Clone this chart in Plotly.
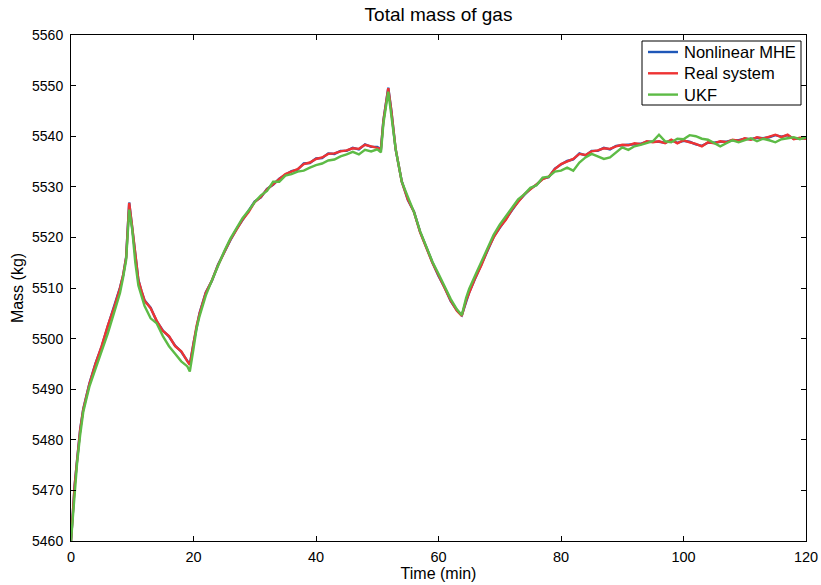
import plotly.graph_objects as go

time_min = [0, 0.3, 0.6, 1, 1.5, 2, 2.5, 3, 4, 5, 6, 7, 8, 8.5, 9, 9.5, 10, 10.5, 11, 11.5,
            12, 13, 14, 15, 16, 17, 18, 19, 19.4, 20, 20.5, 21, 22, 23, 24, 25, 26, 27, 28, 29,
            30, 31, 32, 33, 34, 35, 36, 37, 38, 39, 40, 41, 42, 43, 44, 45, 46, 47, 48, 49,
            50, 50.6, 51, 51.8, 52.3, 53, 54, 55, 56, 57, 58, 59, 60, 61, 62, 63, 63.8, 64.5, 65, 66,
            67, 68, 69, 70, 71, 72, 73, 74, 75, 76, 77, 78, 79, 80, 81, 82, 83, 84, 85, 86,
            87, 88, 89, 90, 91, 92, 93, 94, 95, 96, 97, 98, 99, 100, 101, 102, 103, 104, 105, 106,
            107, 108, 109, 110, 111, 112, 113, 114, 115, 116, 117, 118, 119, 120]

real_system = [5460, 5466, 5471, 5476, 5482, 5486, 5488.5, 5491, 5495, 5498.5, 5502.5, 5506, 5510, 5512.5, 5516, 5526.8, 5522, 5516.5, 5511.5, 5509.5,
               5507.5, 5506, 5503.5, 5501.5, 5500.5, 5498.5, 5497.5, 5495.5, 5494.8, 5499, 5502.5, 5505, 5509, 5511.5, 5514.5, 5517, 5519.5, 5521.5, 5523.5, 5525,
               5527, 5528, 5529.5, 5530.5, 5531.5, 5532.5, 5533, 5533.5, 5534.5, 5534.8, 5535.5, 5535.8, 5536.5, 5536.6, 5537, 5537.2, 5537.6, 5537.5, 5538.3, 5538,
               5537.8, 5537.5, 5543, 5549.5, 5545, 5537.5, 5531, 5527.5, 5525, 5521, 5518, 5515, 5512.5, 5510, 5507.5, 5505.5, 5504.5, 5507.5, 5509, 5512,
               5514.5, 5517.5, 5520, 5522, 5523.5, 5525.5, 5527, 5528.5, 5529.5, 5530.5, 5531.5, 5532, 5533.5, 5534.5, 5535, 5535.5, 5536.5, 5536.3, 5537, 5537.2,
               5537.6, 5537.5, 5538, 5538.3, 5538.2, 5538.6, 5538.4, 5539, 5538.8, 5539, 5538.6, 5539.3, 5538.6, 5539.2, 5538.8, 5538.5, 5538, 5538.8, 5538.6, 5539,
               5538.8, 5539.3, 5539.1, 5539.6, 5539.3, 5539.8, 5539.5, 5539.9, 5540.3, 5539.8, 5540.3, 5539.4, 5539.7, 5539.5]

nonlinear_mhe = [5460, 5466.2, 5471.1, 5476.1, 5482.1, 5486.1, 5488.4, 5491.1, 5495.1, 5498.4, 5502.4, 5506.1, 5510.1, 5512.4, 5516.1, 5526.9, 5522.1, 5516.4, 5511.6, 5509.4,
                 5507.6, 5506.1, 5503.4, 5501.6, 5500.4, 5498.6, 5497.4, 5495.6, 5494.9, 5499.1, 5502.4, 5505.1, 5509.1, 5511.4, 5514.6, 5517.1, 5519.4, 5521.6, 5523.4, 5525.1,
                 5527.1, 5527.9, 5529.6, 5530.4, 5531.6, 5532.4, 5533.1, 5533.4, 5534.6, 5534.7, 5535.6, 5535.7, 5536.6, 5536.5, 5537.1, 5537.1, 5537.7, 5537.4, 5538.4, 5537.9,
                 5537.9, 5537.4, 5543.1, 5549.6, 5545.1, 5537.4, 5531.1, 5527.4, 5525.1, 5521.1, 5517.9, 5515.1, 5512.4, 5510.1, 5507.4, 5505.6, 5504.6, 5507.4, 5509.1, 5511.9,
                 5514.6, 5517.4, 5520.1, 5521.9, 5523.6, 5525.4, 5527.1, 5528.4, 5529.6, 5530.4, 5531.6, 5531.9, 5533.6, 5534.4, 5535.1, 5535.4, 5536.6, 5536.2, 5537.1, 5537.1,
                 5537.7, 5537.4, 5538.1, 5538.2, 5538.3, 5538.5, 5538.5, 5538.9, 5538.9, 5538.9, 5538.7, 5539.2, 5538.7, 5539.1, 5538.9, 5538.4, 5538.1, 5538.7, 5538.7, 5538.9,
                 5538.9, 5539.2, 5539.2, 5539.5, 5539.4, 5539.7, 5539.6, 5539.8, 5540.2, 5539.9, 5540.2, 5539.5, 5539.6, 5539.6]

ukf = [5460, 5465, 5470, 5475.5, 5481, 5485.5, 5488, 5490.5, 5494, 5497.5, 5501, 5505, 5509, 5512, 5515.5, 5525.5, 5521.5, 5515, 5510.5, 5508.5,
       5506.5, 5504, 5503, 5500.5, 5498.5, 5497, 5495.5, 5494.5, 5493.5, 5498, 5502, 5504.5, 5508.5, 5511.5, 5514.5, 5517.2, 5519.7, 5521.8, 5523.8, 5525.3,
       5527, 5528.3, 5529.2, 5531, 5531, 5532.2, 5532.5, 5533, 5533.2, 5533.8, 5534.3, 5534.6, 5535.2, 5535.4, 5536, 5536.4, 5536.9, 5536.4, 5537.3, 5537,
       5537.4, 5536.8, 5542.5, 5548.8, 5544.5, 5537.5, 5531, 5527.8, 5525, 5521.2, 5518, 5515.2, 5512.8, 5510.2, 5507.8, 5505.8, 5504.6, 5508, 5509.8, 5512.5,
       5515.2, 5518, 5520.5, 5522.5, 5524.2, 5526, 5527.5, 5528.5, 5529.8, 5530.3, 5531.8, 5532, 5533, 5533.2, 5533.8, 5533.2, 5534.8, 5535.8, 5536.5, 5536,
       5535.5, 5535.8, 5536.8, 5537.8, 5537.3, 5538, 5538.3, 5538.6, 5539, 5540.3, 5539, 5538.8, 5539.5, 5539.4, 5540.2, 5540, 5539.5, 5539.3, 5538.6, 5538,
       5538.6, 5539.2, 5538.8, 5539.2, 5539.6, 5539, 5539.5, 5539.2, 5538.8, 5539.4, 5539.6, 5539.8, 5539.4, 5539.8]

series_names = ["Nonlinear MHE", "Real system", "UKF"]
series_colors = ["#1f57b8", "#ee3333", "#5dbb46"]

x_ticks = [0, 20, 40, 60, 80, 100, 120]
y_ticks = [5460, 5470, 5480, 5490, 5500, 5510, 5520, 5530, 5540, 5550, 5560]

FONT = "Liberation Sans, Arial, Helvetica, sans-serif"

# plot area in pixels (for legend placement in paper coordinates)
L, R, T, B = 71, 806, 35, 541


def px(x):
    return (x - L) / (R - L)


def py(y):
    return (B - y) / (B - T)


fig = go.Figure()
for name, color, vals in zip(series_names, series_colors, [nonlinear_mhe, real_system, ukf]):
    fig.add_trace(go.Scatter(x=time_min, y=vals, mode="lines", name=name,
                             line=dict(color=color, width=2.4), showlegend=False))

# MATLAB-style legend box
shapes = [dict(type="rect", xref="paper", yref="paper", x0=px(642), x1=px(801),
               y0=py(105), y1=py(41), line=dict(color="black", width=1), fillcolor="white",
               layer="above")]
annotations = []
for i, (name, color) in enumerate(zip(series_names, series_colors)):
    yy = 52 + i * 21.3
    shapes.append(dict(type="line", xref="paper", yref="paper", x0=px(648), x1=px(678),
                       y0=py(yy), y1=py(yy), line=dict(color=color, width=2.4), layer="above"))
    annotations.append(dict(text=name, xref="paper", yref="paper", x=px(682), y=py(yy),
                            xanchor="left", yanchor="middle", showarrow=False,
                            font=dict(size=16.5, family=FONT, color="black")))

fig.update_layout(
    width=821, height=585,
    margin=dict(l=71, r=15, t=35, b=44, autoexpand=False),
    paper_bgcolor="white", plot_bgcolor="white",
    font=dict(family=FONT, size=13.5, color="black"),
    title=dict(text="Total mass of gas", x=(71 + 735 / 2) / 821, xanchor="center",
               y=1 - 14 / 585, yanchor="middle", font=dict(size=19)),
    showlegend=False,
    shapes=shapes,
    annotations=annotations,
)
fig.update_xaxes(range=[0, 120], tickvals=x_ticks, ticks="inside", ticklen=5,
                 tickcolor="black", showline=True, linecolor="black", linewidth=1,
                 mirror="ticks", showgrid=False, zeroline=False, automargin=False,
                 tickfont=dict(size=14.5), ticklabelstandoff=3,
                 title=dict(text="Time (min)", standoff=0, font=dict(size=16)))
fig.update_yaxes(range=[5460, 5560], tickvals=y_ticks, ticks="inside", ticklen=5,
                 tickcolor="black", showline=True, linecolor="black", linewidth=1,
                 mirror="ticks", showgrid=False, zeroline=False, automargin=False,
                 tickfont=dict(size=14), ticklabelstandoff=4,
                 title=dict(text="Mass (kg)", standoff=4, font=dict(size=16)))

fig.write_html("out.html")
